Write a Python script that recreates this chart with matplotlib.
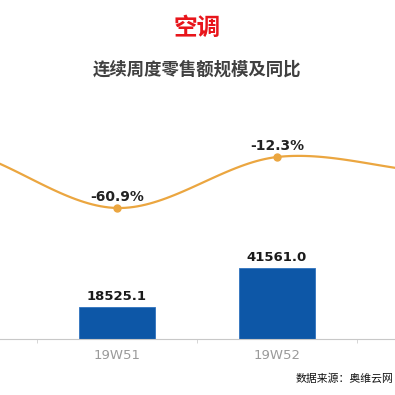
import numpy as np
import matplotlib.pyplot as plt

plt.rcParams['font.family'] = ['Noto Sans CJK SC', 'DejaVu Sans']

# weekly data (outer weeks are only partly visible in the crop)
weeks = ["19W50", "19W51", "19W52", "20W01"]
sales = [60000.0, 18525.1, 41561.0, 30000.0]
yoy = [-5.0, -60.9, -12.3, -27.0]
show_labels = [False, True, True, False]

fig = plt.figure(figsize=(3.95, 3.95), dpi=100)
ax = fig.add_axes([0, 56 / 395, 1, 219 / 395])

x = np.arange(len(weeks))
ax.bar(x, sales, width=0.475, color="#0D57A7", edgecolor="#2F73BE", linewidth=0.6, zorder=2)
for xi, v, s in zip(x, sales, show_labels):
    if s:
        ax.text(xi, v + 2500, f"{v:.1f}", ha="center", va="bottom", fontsize=9.5,
                fontweight="bold", color="#1a1a1a", family="DejaVu Sans")

ax.set_ylim(0, 128200)
vis = [i for i, s in enumerate(show_labels) if s]
ax.set_xticks(x[vis])
ax.set_xticklabels([weeks[i] for i in vis], color="#9a9a9a", fontsize=9.5, family="DejaVu Sans")
ax.set_xticks(x[:-1] + 0.5, minor=True)
ax.tick_params(axis="x", which="major", length=0, pad=7)
ax.tick_params(axis="x", which="minor", length=3, color="#d0d0d0")
ax.set_yticks([])
for side in ["top", "left", "right"]:
    ax.spines[side].set_visible(False)
ax.spines["bottom"].set_color("#c8c8c8")
ax.patch.set_alpha(0)

# smooth line on twin axis (Catmull-Rom through the data points)
ax2 = ax.twinx()
px = np.array([-1.0] + list(x) + [len(x)], dtype=float)
py = np.array([yoy[0]] + yoy + [yoy[-1]], dtype=float)
cx, cy = [], []
t = np.linspace(0, 1, 40)
for i in range(1, len(px) - 2):
    p0, p1, p2, p3 = py[i - 1], py[i], py[i + 1], py[i + 2]
    cy.extend(0.5 * (2 * p1 + (-p0 + p2) * t + (2 * p0 - 5 * p1 + 4 * p2 - p3) * t ** 2
                     + (-p0 + 3 * p1 - 3 * p2 + p3) * t ** 3))
    cx.extend(px[i] + t)
ax2.plot(cx, cy, color="#EBA640", linewidth=1.6, zorder=3)
ax2.plot(x, yoy, "o", color="#EBA640", markersize=5, zorder=4)
for xi, v, s in zip(x, yoy, show_labels):
    if s:
        ax2.text(xi, v + 4, f"{v:.1f}%", ha="center", va="bottom", fontsize=10,
                 fontweight="bold", color="#222222", family="DejaVu Sans")
ax2.set_ylim(-185.8, 23.0)
ax2.set_yticks([])
for side in ["top", "left", "right", "bottom"]:
    ax2.spines[side].set_visible(False)

# only the middle of the chart is visible
ax.set_xlim(0.269, 2.7375)
ax2.set_xlim(0.269, 2.7375)

fig.text(0.5, 1 - 28 / 395, "空调", ha="center", va="center", fontsize=17,
         fontweight="bold", color="#E8151B")
fig.text(0.5, 1 - 70 / 395, "连续周度零售额规模及同比", ha="center", va="center",
         fontsize=12.5, fontweight="bold", color="#404040")
fig.text(296 / 395, 1 - 379 / 395, "数据来源：奥维云网", ha="left", va="center",
         fontsize=7.8, fontweight="medium", color="#111111")

fig.savefig("out.png", dpi=100, facecolor="white")
